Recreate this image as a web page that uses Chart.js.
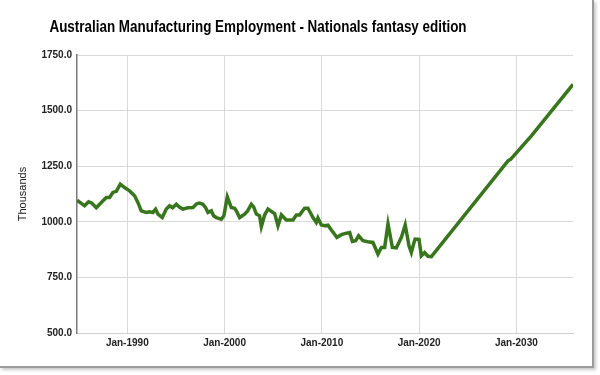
<!DOCTYPE html>
<html>
<head>
<meta charset="utf-8">
<script src="https://cdn.jsdelivr.net/npm/chart.js@4"></script>
<style>
  body { margin: 0; background: #fff; }
  #wrap { position: relative; width: 600px; height: 375px; }
  #frame {
    position: absolute; left: 0; top: 0; width: 592px; height: 366px;
    border-right: 2px solid #9a9a9a; border-bottom: 2px solid #9a9a9a;
    box-shadow: 2px 2px 3px #c8c8c8;
  }
  canvas { position: absolute; left: 0; top: 0; }
</style>
</head>
<body>
<div id="wrap">
  <div id="frame"></div>
  <canvas id="empChart" width="600" height="375"></canvas>
</div>
<script>
// dates as decimal years
const years = [
  1984.83, 1985.27, 1985.61, 1986.02, 1986.33, 1986.81, 1987.33, 1987.84, 1988.18, 1988.52,
  1988.87, 1989.28, 1989.72, 1990.24, 1990.75, 1991.09, 1991.44, 1991.95, 1992.29, 1992.63,
  1992.91, 1993.15, 1993.60, 1994.01, 1994.35, 1994.66, 1995.04, 1995.38, 1995.72, 1996.20,
  1996.75, 1997.13, 1997.43, 1997.77, 1998.05, 1998.29, 1998.64, 1998.87, 1999.15, 1999.67,
  1999.93, 2000.28, 2000.69, 2001.03, 2001.21, 2001.55, 2002.06, 2002.37, 2002.75, 2002.99,
  2003.27, 2003.60, 2003.78, 2004.12, 2004.46, 2004.97, 2005.15, 2005.49, 2005.84, 2006.35,
  2007.03, 2007.38, 2007.72, 2008.23, 2008.57, 2009.09, 2009.43, 2009.60, 2009.95, 2010.29,
  2010.63, 2010.98, 2011.55, 2012.01, 2012.45, 2012.86, 2013.14, 2013.48, 2013.78, 2014.23,
  2014.71, 2015.25, 2015.77, 2016.12, 2016.46, 2016.80, 2017.25, 2017.66, 2018.18, 2018.57,
  2018.96, 2019.20, 2019.44, 2019.59, 2019.99, 2020.23, 2020.57, 2020.91, 2021.26,
  2029.14, 2029.40, 2031.54, 2035.82
];
// employment, thousands
const employment = [
  1097, 1083, 1072, 1090, 1085, 1063, 1087, 1109, 1109, 1132,
  1137, 1169, 1154, 1139, 1117, 1087, 1049, 1042, 1045, 1042,
  1057, 1035, 1019, 1057, 1072, 1063, 1079, 1065, 1057, 1063,
  1064, 1081, 1084, 1079, 1063, 1042, 1049, 1027, 1019, 1012,
  1027, 1112, 1064, 1061, 1049, 1019, 1034, 1049, 1079, 1067,
  1035, 1027, 978, 1031, 1057, 1042, 1037, 982, 1031, 1008,
  1008, 1031, 1031, 1061, 1061, 1019, 997, 1017, 986, 982,
  985, 963, 930, 942, 948, 952, 912, 915, 937, 915,
  910, 907, 855, 885, 885, 991, 885, 883, 930, 986,
  892, 862, 901, 922, 921, 847, 862, 845, 843,
  1274, 1281, 1386, 1618
];
const tickYears = [1990, 2000, 2010, 2020, 2030];
const yTicks = [500, 750, 1000, 1250, 1500, 1750];
const chartTitle = "Australian Manufacturing Employment - Nationals fantasy edition";

const points = years.map((x, i) => ({ x: x, y: employment[i] }));
const labelFont = { family: "'Liberation Sans', Arial, sans-serif", size: 10, weight: "bold" };

// the title in the original is squeezed sideways, so draw it condensed
const condensedTitle = {
  id: "condensedTitle",
  afterDraw(chart) {
    const ctx = chart.ctx;
    ctx.save();
    ctx.font = "bold 17px 'Liberation Sans', Arial, sans-serif";
    ctx.fillStyle = "#000";
    ctx.textAlign = "center";
    ctx.textBaseline = "alphabetic";
    ctx.translate(258, 32);
    ctx.scale(0.79, 1);
    ctx.fillText(chartTitle, 0, 0);
    ctx.restore();
  }
};

new Chart(document.getElementById("empChart"), {
  type: "line",
  data: {
    datasets: [{
      data: points,
      borderColor: "#38761d",
      borderWidth: 3.5,
      pointRadius: 0,
      tension: 0,
      fill: false
    }]
  },
  options: {
    responsive: false,
    animation: false,
    layout: { padding: { left: 0, right: 27, top: 55, bottom: 0 } },
    plugins: {
      legend: { display: false },
      tooltip: { enabled: false },
      title: { display: false }
    },
    scales: {
      x: {
        type: "linear",
        min: years[0],
        max: years[years.length - 1],
        afterBuildTicks: (scale) => { scale.ticks = tickYears.map(v => ({ value: v })); },
        afterFit: (scale) => { scale.height = 42; },
        grid: { color: "#d9d9d9", drawTicks: false },
        border: { color: "#cfcfcf" },
        ticks: {
          color: "#222",
          font: labelFont,
          padding: 4,
          maxRotation: 0,
          callback: (v) => "Jan-" + v
        }
      },
      y: {
        min: 500,
        max: 1750,
        afterBuildTicks: (scale) => { scale.ticks = yTicks.map(v => ({ value: v })); },
        afterFit: (scale) => { scale.width = 77; },
        grid: { color: "#d9d9d9", drawTicks: false },
        border: { color: "#7a7a7a", width: 1.5 },
        ticks: {
          color: "#222",
          font: labelFont,
          padding: 5,
          callback: (v) => v.toFixed(1)
        },
        title: {
          display: true,
          text: "Thousands",
          color: "#222",
          font: { family: "'Liberation Sans', Arial, sans-serif", size: 11 },
          padding: { top: 16, bottom: 0 }
        }
      }
    }
  },
  plugins: [condensedTitle]
});
</script>
</body>
</html>
